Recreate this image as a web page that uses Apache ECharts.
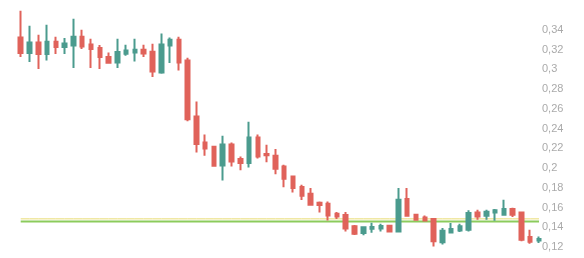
<!DOCTYPE html>
<html>
<head>
<meta charset="utf-8">
<script src="https://cdn.jsdelivr.net/npm/echarts@6/dist/echarts.min.js"></script>
<style>html,body{margin:0;padding:0;background:#fff}#c{width:584px;height:258px}</style>
</head>
<body>
<div id="c"></div>
<script>
// [open, close, low, high]
const candles = [
[0.3322,0.3164,0.3124,0.3593],
[0.3164,0.3272,0.3073,0.3441],
[0.3272,0.3154,0.3002,0.3350],
[0.3154,0.3279,0.3089,0.3451],
[0.3279,0.3225,0.3154,0.3329],
[0.3225,0.3262,0.3154,0.3316],
[0.3241,0.3329,0.3013,0.3512],
[0.3329,0.3231,0.3205,0.3400],
[0.3251,0.3205,0.3013,0.3309],
[0.3215,0.3124,0.3002,0.3245],
[0.3124,0.3066,0.3056,0.3170],
[0.3069,0.3175,0.3013,0.3309],
[0.3157,0.3191,0.3137,0.3248],
[0.3170,0.3198,0.3079,0.3309],
[0.3198,0.3160,0.3124,0.3248],
[0.3178,0.2978,0.2921,0.3259],
[0.2968,0.3251,0.2955,0.3363],
[0.3241,0.3299,0.3063,0.3322],
[0.3299,0.3069,0.2988,0.3329],
[0.3089,0.2494,0.2474,0.3117],
[0.2522,0.2243,0.2158,0.2674],
[0.2259,0.2198,0.2125,0.2340],
[0.2216,0.2023,0.2013,0.2226],
[0.2026,0.2239,0.1874,0.2327],
[0.2239,0.2067,0.2016,0.2259],
[0.2091,0.2051,0.1976,0.2117],
[0.2051,0.2310,0.2006,0.2469],
[0.2310,0.2117,0.2097,0.2340],
[0.2142,0.2128,0.2057,0.2236],
[0.2125,0.1993,0.1937,0.2192],
[0.2016,0.1892,0.1804,0.2033],
[0.1915,0.1798,0.1753,0.1922],
[0.1808,0.1720,0.1676,0.1831],
[0.1740,0.1628,0.1621,0.1798],
[0.1649,0.1625,0.1550,0.1662],
[0.1638,0.1520,0.1469,0.1662],
[0.1537,0.1510,0.1484,0.1555],
[0.1524,0.1388,0.1358,0.1555],
[0.1409,0.1335,0.1322,0.1423],
[0.1342,0.1399,0.1318,0.1409],
[0.1385,0.1403,0.1345,0.1446],
[0.1388,0.1413,0.1358,0.1436],
[0.1416,0.1358,0.1348,0.1426],
[0.1358,0.1679,0.1348,0.1798],
[0.1686,0.1517,0.1510,0.1798],
[0.1527,0.1477,0.1466,0.1537],
[0.1500,0.1469,0.1459,0.1520],
[0.1484,0.1257,0.1206,0.1487],
[0.1247,0.1365,0.1226,0.1393],
[0.1348,0.1382,0.1342,0.1443],
[0.1368,0.1409,0.1352,0.1436],
[0.1375,0.1544,0.1358,0.1571],
[0.1550,0.1510,0.1477,0.1578],
[0.1517,0.1557,0.1477,0.1578],
[0.1550,0.1571,0.1466,0.1585],
[0.1527,0.1585,0.1522,0.1679],
[0.1585,0.1527,0.1504,0.1598],
[0.1550,0.1274,0.1257,0.1557],
[0.1301,0.1254,0.1234,0.1375],
[0.1267,0.1281,0.1241,0.1307]
];
const categories = candles.map((_, i) => String(i + 1));
const levelYellow = 0.1485;
const levelGreen = 0.1459;
const yMin = 0.12, yMax = 0.36, yStep = 0.02;

const chart = echarts.init(document.getElementById('c'), null, {renderer: 'canvas'});
chart.setOption({
  animation: false,
  grid: {left: 20.7, right: 45, top: 10, bottom: 11},
  xAxis: {
    type: 'category', data: categories, boundaryGap: false,
    axisLine: {show: false}, axisTick: {show: false}, axisLabel: {show: false}, splitLine: {show: false}
  },
  yAxis: {
    type: 'value', position: 'right', min: yMin, max: yMax, interval: yStep,
    axisLine: {show: false}, axisTick: {show: false}, splitLine: {show: false},
    axisLabel: {
      show: true, showMaxLabel: false, margin: 3, color: '#aaaaaa', fontSize: 11,
      fontFamily: 'Liberation Sans, Arial, sans-serif',
      formatter: v => String(Math.round(v * 100) / 100).replace('.', ',')
    }
  },
  series: [
    {
      type: 'line', data: categories.map(() => levelGreen), symbol: 'none', silent: true, z: 1,
      lineStyle: {color: '#8ccb5c', width: 2}
    },
    {
      type: 'line', data: categories.map(() => levelYellow), symbol: 'none', silent: true, z: 1,
      lineStyle: {color: '#e9dc74', width: 1}
    },
    {
      type: 'candlestick', data: candles, barWidth: 4, clip: false, z: 3,
      itemStyle: {color: '#4b9b8e', color0: '#e0625a', borderColor: '#4b9b8e', borderColor0: '#e0625a', borderWidth: 2}
    }
  ]
});
</script>
</body>
</html>
